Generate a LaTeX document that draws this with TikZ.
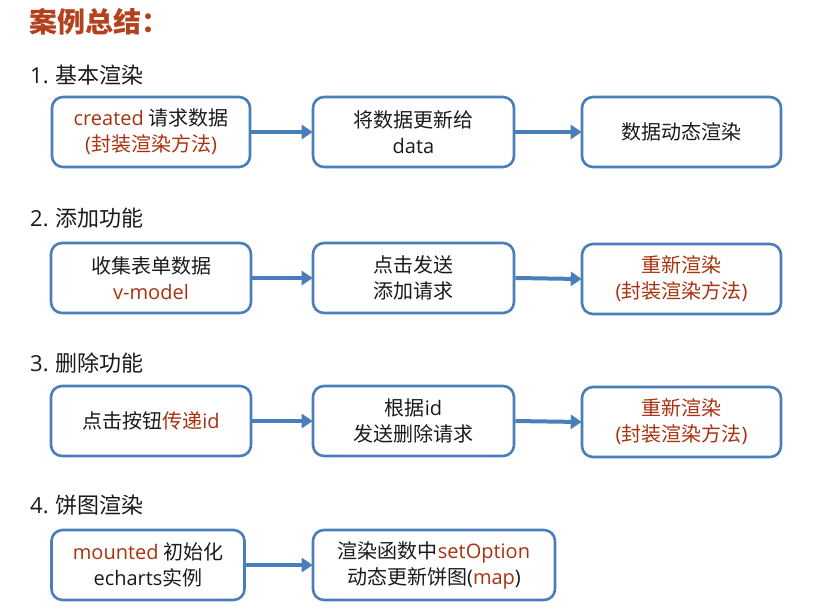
\documentclass[tikz,border=0pt]{standalone}
\usepackage{fontspec}
\setmainfont{Noto Sans CJK SC}
\newfontfamily\lat{Open Sans}
\usetikzlibrary{arrows.meta}
\definecolor{hl}{HTML}{A8320F}
\definecolor{ttl}{HTML}{B5401E}
\definecolor{bd}{HTML}{4A7EBB}
\definecolor{tx}{HTML}{1A1A1A}
\newcommand{\hr}[1]{\textcolor{hl}{#1}}
\newcommand{\la}[1]{{\lat #1}}
\tikzset{
  box/.style={draw=bd, line width=2.6pt, rounded corners=11pt, minimum height=70pt,
    align=center, text=tx, font=\fontsize{20}{26}\selectfont, inner sep=0pt},
  flow/.style={draw=bd, line width=4pt, -{Triangle[length=11pt,width=14pt]}, shorten >=-1pt},
  head/.style={anchor=west, text=tx, font=\fontsize{22}{26}\selectfont, inner sep=0pt}
}
\begin{document}
\begin{tikzpicture}[x=1pt,y=-1pt]
\useasboundingbox (0,0) rectangle (824,614);
\node[anchor=west, text=ttl, font=\fontsize{28}{30}\selectfont\bfseries, inner sep=0pt] (title) at (29,22) {案例总结：};

% row 1
\node[head] (h1) at (30,75) {\la{1.} 基本渲染};
\node[box, minimum width=198pt] (a1) at (151,132) {\hr{\la{created}} 请求数据\\\hr{\la{(}封装渲染方法\la{)}}};
\node[box, minimum width=201pt] (b1) at (413.5,132) {将数据更新给\\\la{data}};
\node[box, minimum width=199pt] (c1) at (681.5,132) {数据动态渲染};
\draw[flow] (a1.east) -- (b1.west);
\draw[flow] (b1.east) -- (c1.west);

% row 2
\node[head] (h2) at (30,218) {\la{2.} 添加功能};
\node[box, minimum width=200pt] (a2) at (151,278) {收集表单数据\\\hr{\la{v-model}}};
\node[box, minimum width=201pt] (b2) at (413.5,278) {点击发送\\添加请求};
\node[box, minimum width=199pt] (c2) at (681.5,279) {\hr{重新渲染}\\\hr{\la{(}封装渲染方法\la{)}}};
\draw[flow] (a2.east) -- (b2.west);
\draw[flow] (b2.east) -- (c2.west);

% row 3
\node[head] (h3) at (30,363) {\la{3.} 删除功能};
\node[box, minimum width=200pt] (a3) at (151,421) {点击按钮\hr{传递\la{id}}};
\node[box, minimum width=201pt] (b3) at (413.5,421) {根据\la{id}\\发送删除请求};
\node[box, minimum width=199pt] (c3) at (681.5,422) {\hr{重新渲染}\\\hr{\la{(}封装渲染方法\la{)}}};
\draw[flow] (a3.east) -- (b3.west);
\draw[flow] (b3.east) -- (c3.west);

% row 4
\node[head] (h4) at (30,505) {\la{4.} 饼图渲染};
\node[box, minimum width=193pt] (a4) at (148,565) {\hr{\la{mounted}} 初始化\\\la{echarts}实例};
\node[box, minimum width=242pt] (b4) at (434,565) {渲染函数中\hr{\la{setOption}}\\动态更新饼图\la{(}\hr{\la{map}}\la{)}};
\draw[flow] (a4.east) -- (b4.west);
\end{tikzpicture}
\end{document}
